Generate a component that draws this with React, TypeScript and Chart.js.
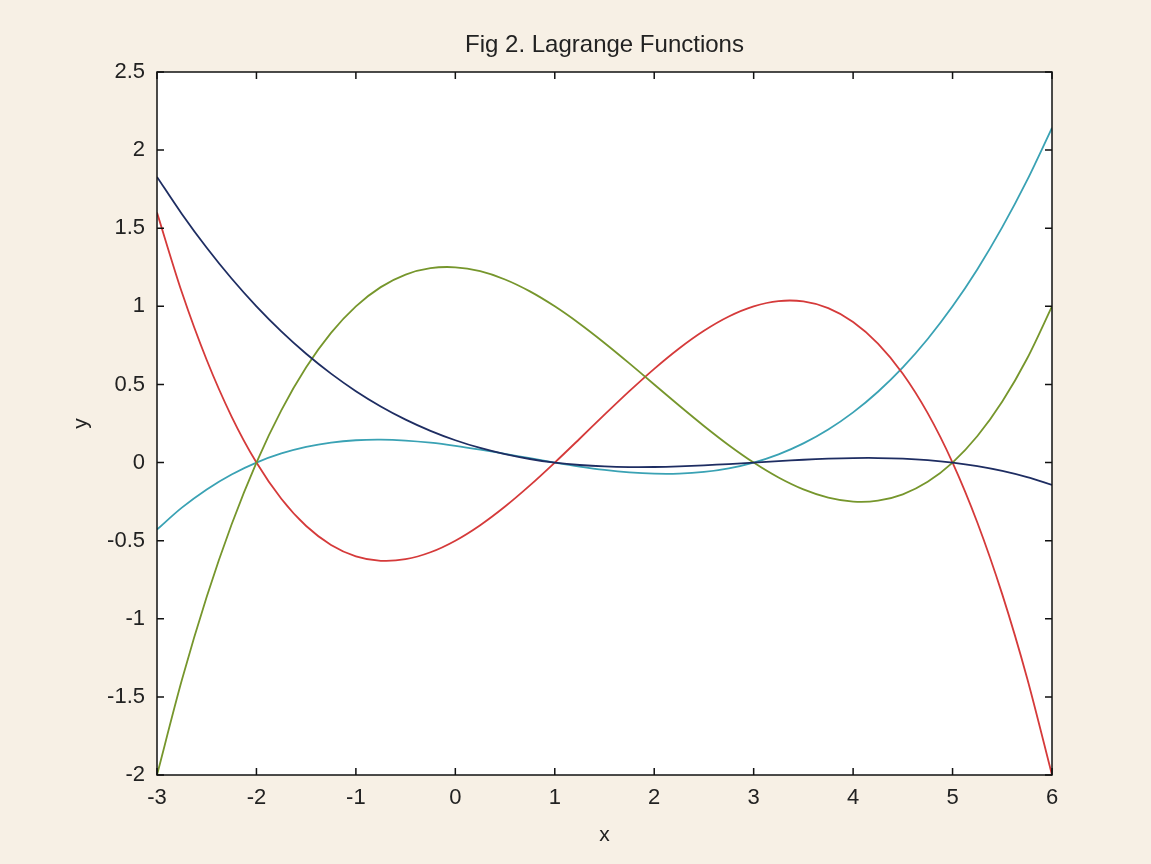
import React, { useEffect, useRef } from "react";
import { Chart, registerables } from "chart.js";

Chart.register(...registerables);

const titleText = "Fig 2. Lagrange Functions";
const xLabel = "x";
const yLabel = "y";

const xTickValues = [-3, -2, -1, 0, 1, 2, 3, 4, 5, 6];
const yTickValues = [-2, -1.5, -1, -0.5, 0, 0.5, 1, 1.5, 2, 2.5];

const xs = [
  -3, -2.75, -2.5, -2.25, -2, -1.75, -1.5, -1.25, -1, -0.75, -0.5, -0.25, 0,
  0.25, 0.5, 0.75, 1, 1.25, 1.5, 1.75, 2, 2.25, 2.5, 2.75, 3, 3.25, 3.5, 3.75,
  4, 4.25, 4.5, 4.75, 5, 5.25, 5.5, 5.75, 6,
];

const navySeries = [
  1.8286, 1.5915, 1.375, 1.1781, 1, 0.8397, 0.6964, 0.5692, 0.4571, 0.3594,
  0.275, 0.2031, 0.1429, 0.0933, 0.0536, 0.0228, 0, -0.0156, -0.025, -0.029,
  -0.0286, -0.0246, -0.0179, -0.0094, 0, 0.0094, 0.0179, 0.0246, 0.0286, 0.029,
  0.025, 0.0156, 0, -0.0228, -0.0536, -0.0933, -0.1429,
];

const oliveSeries = [
  -2, -1.3926, -0.8594, -0.3965, 0, 0.334, 0.6094, 0.8301, 1, 1.123, 1.2031,
  1.2441, 1.25, 1.2246, 1.1719, 1.0957, 1, 0.8887, 0.7656, 0.6348, 0.5, 0.3652,
  0.2344, 0.1113, 0, -0.0957, -0.1719, -0.2246, -0.25, -0.2441, -0.2031, -0.123,
  0, 0.1699, 0.3906, 0.666, 1,
];

const redSeries = [
  1.6, 1.0898, 0.6563, 0.2945, 0, -0.232, -0.4063, -0.5273, -0.6, -0.6289,
  -0.6188, -0.5742, -0.5, -0.4008, -0.2813, -0.1461, 0, 0.1523, 0.3063, 0.457,
  0.6, 0.7305, 0.8438, 0.9352, 1, 1.0336, 1.0313, 0.9883, 0.9, 0.7617, 0.5688,
  0.3164, 0, -0.3852, -0.8438, -1.3805, -2,
];

const cyanSeries = [
  -0.4286, -0.2888, -0.1719, -0.0762, 0, 0.0583, 0.1004, 0.1281, 0.1429,
  0.1465, 0.1406, 0.127, 0.1071, 0.0829, 0.0558, 0.0276, 0, -0.0254, -0.0469,
  -0.0628, -0.0714, -0.0711, -0.0603, -0.0371, 0, 0.0527, 0.1228, 0.2118,
  0.3214, 0.4534, 0.6094, 0.791, 1, 1.238, 1.5067, 1.8078, 2.1429,
];

const frameBoxPlugin = {
  id: "frameBox",
  beforeDatasetsDraw(chart: any) {
    const { ctx, chartArea } = chart;
    ctx.save();
    ctx.fillStyle = "#ffffff";
    ctx.fillRect(chartArea.left, chartArea.top, chartArea.right - chartArea.left, chartArea.bottom - chartArea.top);
    ctx.restore();
  },
  afterDraw(chart: any) {
    const { ctx, chartArea, scales } = chart;
    const { left, right, top, bottom } = chartArea;
    const tl = 7;
    ctx.save();
    ctx.strokeStyle = "#111111";
    ctx.lineWidth = 1.5;
    ctx.strokeRect(left, top, right - left, bottom - top);
    ctx.beginPath();
    xTickValues.forEach((v) => {
      const px = scales.x.getPixelForValue(v);
      ctx.moveTo(px, bottom);
      ctx.lineTo(px, bottom - tl);
      ctx.moveTo(px, top);
      ctx.lineTo(px, top + tl);
    });
    yTickValues.forEach((v) => {
      const py = scales.y.getPixelForValue(v);
      ctx.moveTo(left, py);
      ctx.lineTo(left + tl, py);
      ctx.moveTo(right, py);
      ctx.lineTo(right - tl, py);
    });
    ctx.stroke();
    ctx.restore();
  },
};

export default function App() {
  const canvasRef = useRef<HTMLCanvasElement | null>(null);

  useEffect(() => {
    document.body.style.margin = "0";
    const canvas = canvasRef.current;
    if (!canvas) return;
    const mk = (arr: number[]) => xs.map((x, i) => ({ x, y: arr[i] }));
    const common = {
      pointRadius: 0,
      borderWidth: 1.8,
      tension: 0.3,
      fill: false,
    };
    const chart = new Chart(canvas, {
      type: "line",
      data: {
        datasets: [
          { ...common, label: "L1", data: mk(navySeries), borderColor: "#1e2d62" },
          { ...common, label: "L2", data: mk(oliveSeries), borderColor: "#76962c" },
          { ...common, label: "L3", data: mk(redSeries), borderColor: "#d53a3a" },
          { ...common, label: "L4", data: mk(cyanSeries), borderColor: "#3aa2b4" },
        ],
      },
      options: {
        animation: false,
        responsive: false,
        maintainAspectRatio: false,
        layout: { padding: { left: 0, right: 99, top: 0, bottom: 0 } },
        plugins: {
          legend: { display: false },
          tooltip: { enabled: false },
          title: {
            display: true,
            fullSize: false,
            align: "center",
            text: titleText,
            color: "#222222",
            font: { family: "'Liberation Sans', Arial, sans-serif", size: 24, weight: "normal" },
            padding: { top: 30.6, bottom: 12.6 },
          },
        },
        scales: {
          x: {
            type: "linear",
            min: -3,
            max: 6,
            grid: { display: false, drawTicks: false },
            border: { display: false },
            afterBuildTicks: (scale: any) => {
              scale.ticks = xTickValues.map((v) => ({ value: v }));
            },
            afterFit: (scale: any) => {
              scale.height = 89;
            },
            ticks: {
              color: "#222222",
              padding: 10,
              maxRotation: 0,
              autoSkip: false,
              font: { family: "'Liberation Sans', Arial, sans-serif", size: 22 },
              callback: (v: any) => String(v),
            },
            title: {
              display: true,
              text: xLabel,
              color: "#222222",
              font: { family: "'Liberation Sans', Arial, sans-serif", size: 21 },
              padding: { top: 0, bottom: 16 },
            },
          },
          y: {
            type: "linear",
            min: -2,
            max: 2.5,
            grid: { display: false, drawTicks: false },
            border: { display: false },
            afterBuildTicks: (scale: any) => {
              scale.ticks = yTickValues.map((v) => ({ value: v }));
            },
            afterFit: (scale: any) => {
              scale.width = 157;
            },
            ticks: {
              color: "#222222",
              padding: 12,
              autoSkip: false,
              font: { family: "'Liberation Sans', Arial, sans-serif", size: 22 },
              callback: (v: any) => String(v),
            },
            title: {
              display: true,
              text: yLabel,
              color: "#222222",
              font: { family: "'Liberation Sans', Arial, sans-serif", size: 21 },
              padding: { top: 69, bottom: 0 },
            },
          },
        },
      },
      plugins: [frameBoxPlugin],
    } as any);
    return () => chart.destroy();
  }, []);

  return (
    <div style={{ position: "fixed", left: 0, top: 0, width: 1151, height: 864, background: "#f7f0e5" }}>
      <canvas ref={canvasRef} width={1151} height={864} style={{ display: "block", width: 1151, height: 864 }} />
    </div>
  );
}
